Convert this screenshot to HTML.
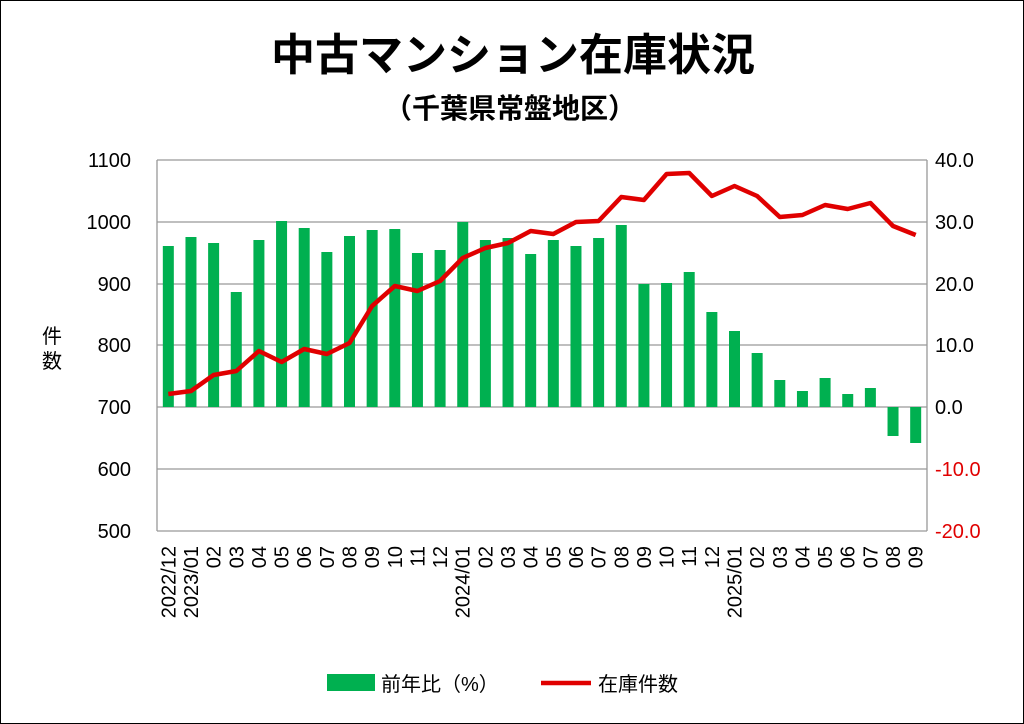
<!DOCTYPE html>
<html><head><meta charset="utf-8"><style>
html,body{margin:0;padding:0;background:#fff}
svg{display:block}
text{font-family:"Liberation Sans","Noto Sans CJK JP",sans-serif}
</style></head><body>
<svg id="s" width="1024" height="724" xmlns="http://www.w3.org/2000/svg">
<rect x="0.5" y="0.5" width="1023" height="723" fill="#fff" stroke="#000"/>
<text x="513" y="70" font-size="44" font-weight="bold" text-anchor="middle" font-family="'Noto Sans CJK JP',sans-serif">中古マンション在庫状況</text>
<text x="510" y="118" font-size="28" font-weight="bold" text-anchor="middle" font-family="'Noto Sans CJK JP',sans-serif">（千葉県常盤地区）</text>
<text x="52" y="343" font-size="20" text-anchor="middle" font-family="'Noto Sans CJK JP',sans-serif">件</text>
<text x="52" y="368" font-size="20" text-anchor="middle" font-family="'Noto Sans CJK JP',sans-serif">数</text>
<g id="g"></g>
<rect x="327" y="674" width="48" height="17" fill="#00b050"/>
<text x="381" y="691" font-size="20" font-family="'Noto Sans CJK JP',sans-serif">前年比（%）</text>
<line x1="541" y1="683" x2="591" y2="683" stroke="#e00000" stroke-width="4.5"/>
<text x="598" y="691" font-size="20" font-family="'Noto Sans CJK JP',sans-serif">在庫件数</text>
</svg>
<script>
var g=document.getElementById('g'),h='';
var L=157,R=927,T=160,B=531,n=34,w=(R-L)/n;
var ys=[160,222,284,345,407,469,531],ll=['1100','1000','900','800','700','600','500'],rl=['40.0','30.0','20.0','10.0','0.0','-10.0','-20.0'];
for(var i=0;i<7;i++){
 if(i<6)h+='<line x1="'+L+'" y1="'+ys[i]+'" x2="'+R+'" y2="'+ys[i]+'" stroke="#999" stroke-width="1.3"/>';
 h+='<text x="131" y="'+(ys[i]+7)+'" font-size="20" text-anchor="end">'+ll[i]+'</text>';
 h+='<text x="935" y="'+(ys[i]+7)+'" font-size="20" fill="'+(i>=5?'#e00000':'#000')+'">'+rl[i]+'</text>';
}
h+='<line x1="'+L+'" y1="'+T+'" x2="'+L+'" y2="'+B+'" stroke="#999" stroke-width="1.3"/>';
h+='<line x1="'+R+'" y1="'+T+'" x2="'+R+'" y2="'+B+'" stroke="#999" stroke-width="1.3"/>';
h+='<line x1="'+L+'" y1="'+B+'" x2="'+R+'" y2="'+B+'" stroke="#999" stroke-width="1.3"/>';
var bt=[246,237,243,292,240,221,228,252,236,230,229,253,250,222,240,238,254,240,246,238,225,284,283,272,312,331,353,380,391,378,394,388,436,443];
var ly=[394,391,375,371,351,362,349,354,343,306,286,291,281,258,248,243,231,234,222,221,197,200,174,173,196,186,196,217,215,205,209,203,226,235];
var lab=['2022/12','2023/01','02','03','04','05','06','07','08','09','10','11','12','2024/01','02','03','04','05','06','07','08','09','10','11','12','2025/01','02','03','04','05','06','07','08','09'];
var pts=[];
for(var i=0;i<n;i++){
 var cx=L+w*(i+0.5),t=bt[i],y0=Math.min(t,407),y1=Math.max(t,407);
 h+='<rect x="'+(cx-5.5)+'" y="'+y0+'" width="11" height="'+(y1-y0)+'" fill="#00b050"/>';
 pts.push(cx.toFixed(1)+','+ly[i]);
 h+='<text transform="translate('+(cx+7)+',546) rotate(-90)" font-size="20" text-anchor="end">'+lab[i]+'</text>';
}
h+='<polyline points="'+pts.join(' ')+'" fill="none" stroke="#e00000" stroke-width="4.5" stroke-linejoin="round"/>';
g.innerHTML=h;
</script>
</body></html>
